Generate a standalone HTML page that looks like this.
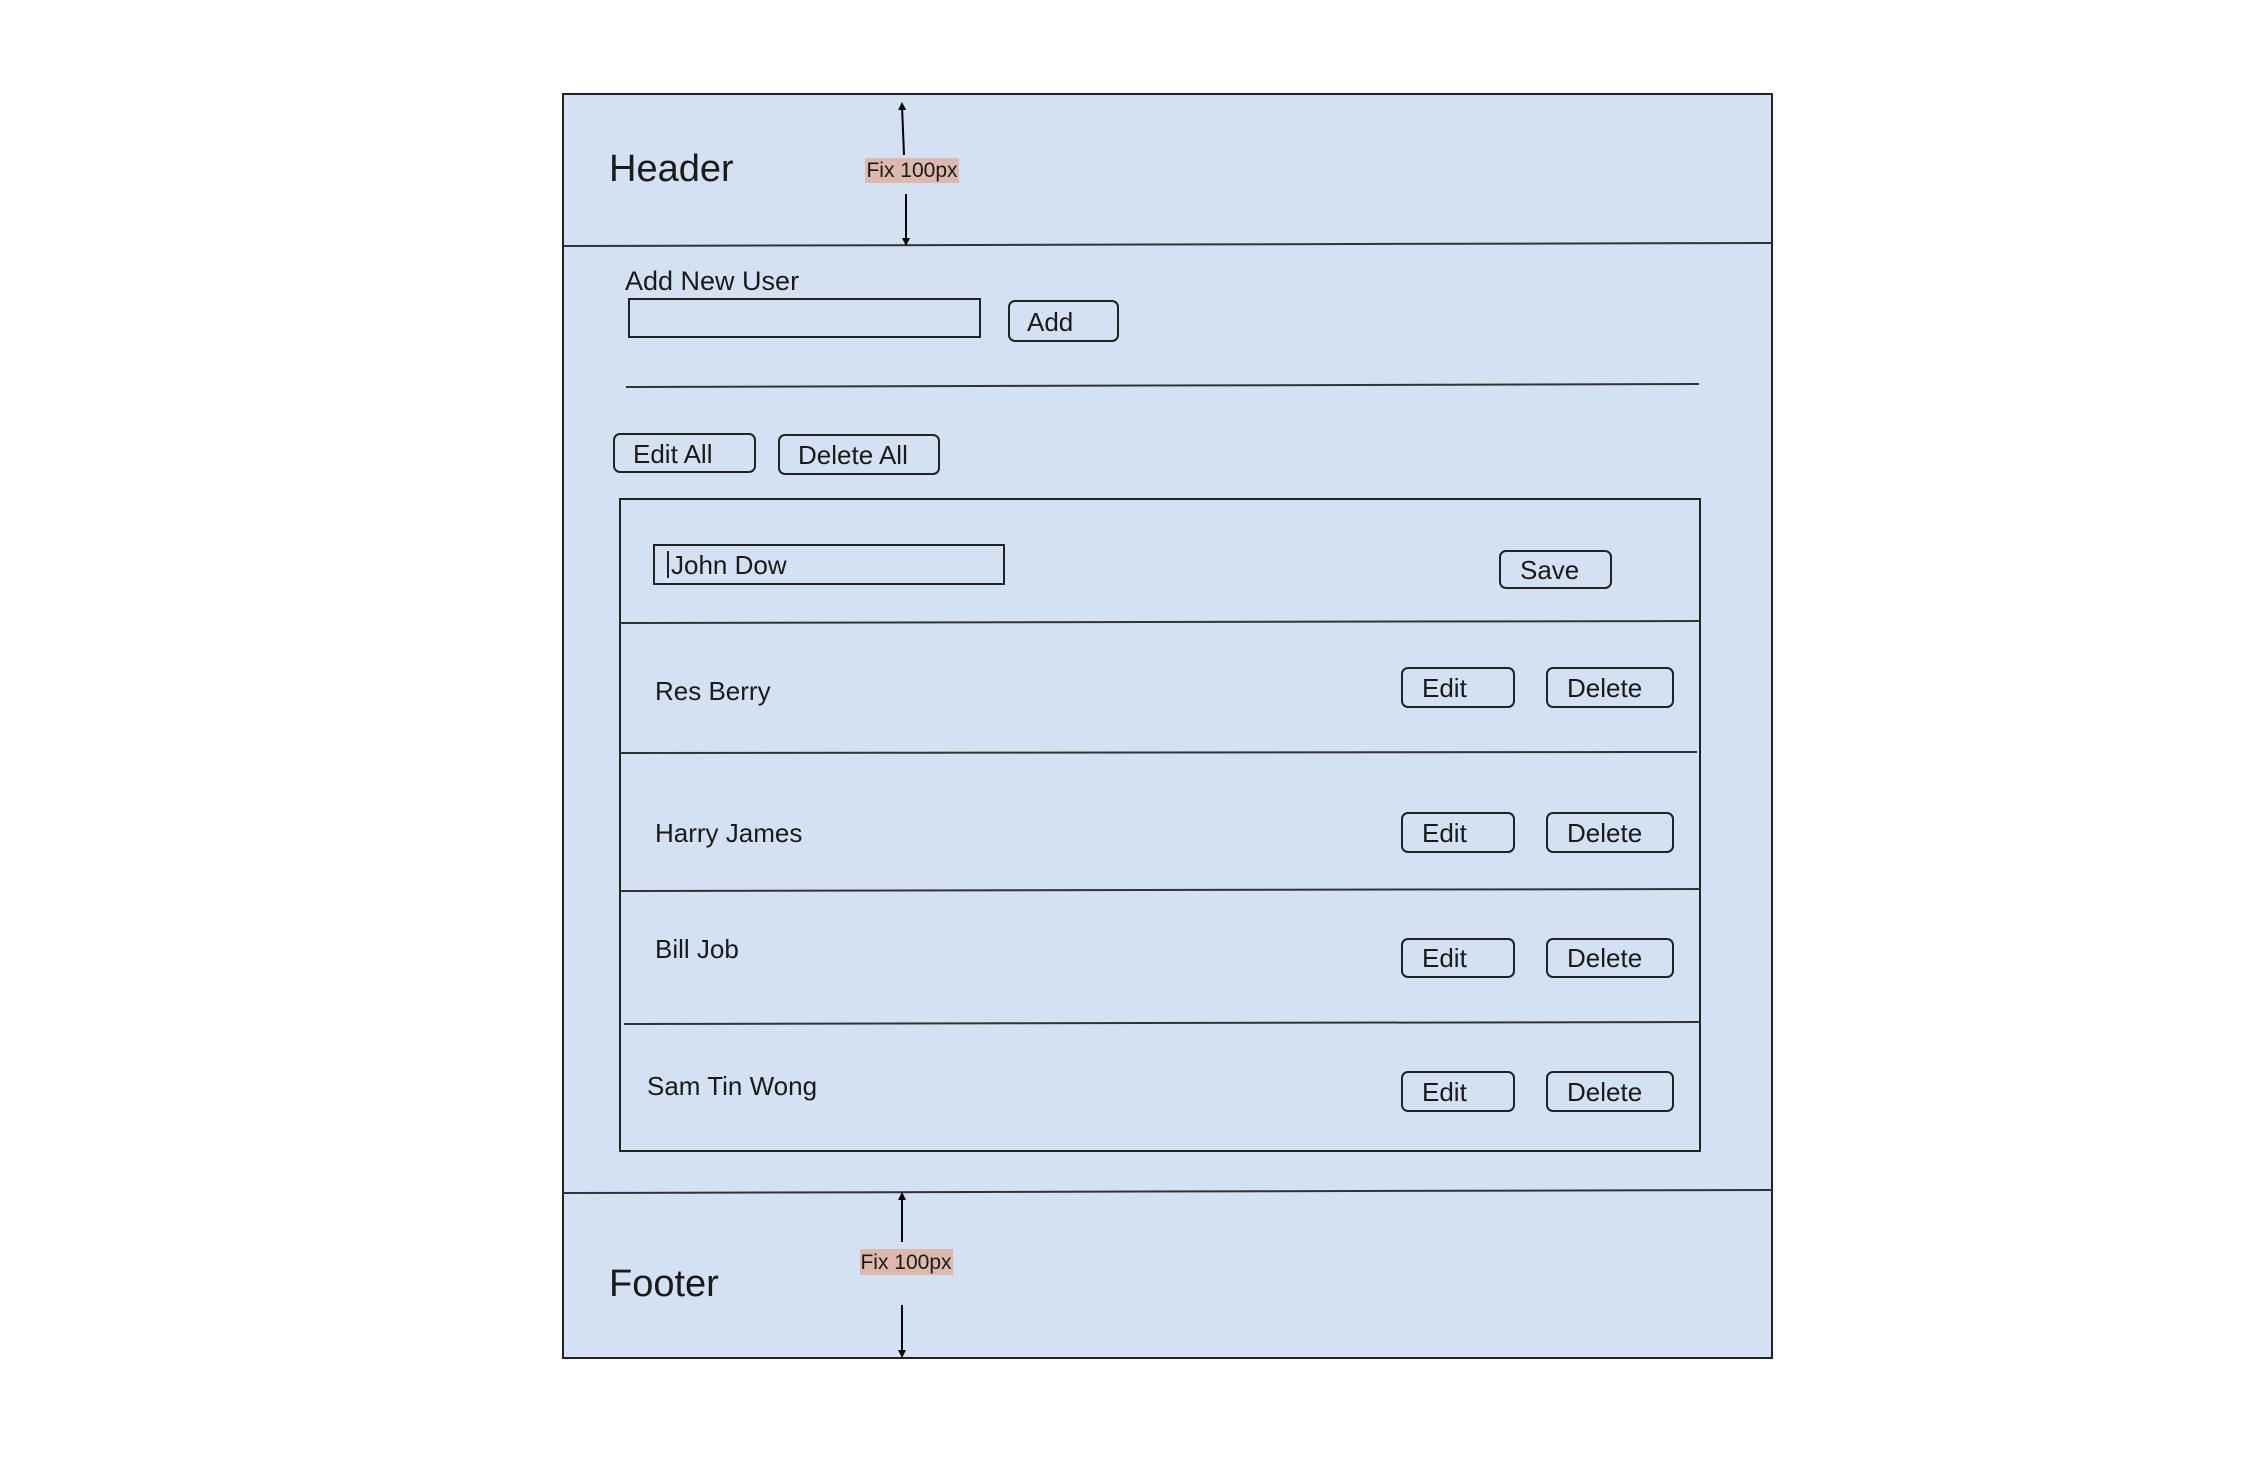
<!DOCTYPE html>
<html><head><meta charset="utf-8"><style>
html,body{margin:0;padding:0;background:#fff;}
svg{display:block;}
text{font-family:"Liberation Sans",Arial,sans-serif;fill:#1a1a1a;}
</style></head><body>
<svg width="2248" height="1470" viewBox="0 0 2248 1470" xmlns="http://www.w3.org/2000/svg">
<defs>
<marker id="ah" markerWidth="8" markerHeight="8" refX="4" refY="4" orient="auto" markerUnits="userSpaceOnUse" viewBox="0 0 8 8"><path d="M0,0 L8,4 L0,8 z" fill="#000"/></marker>
</defs>
<rect x="563" y="94" width="1209" height="1264" fill="#d4e1f2" stroke="#222" stroke-width="2"/>
<line x1="563" y1="246" x2="1772" y2="243" stroke="#333" stroke-width="2"/>
<line x1="563" y1="1193" x2="1772" y2="1190" stroke="#333" stroke-width="2"/>
<text x="609" y="181" font-size="38">Header</text>
<text x="609" y="1296" font-size="38">Footer</text>
<!-- header arrows -->
<line x1="904" y1="155" x2="902" y2="106" stroke="#000" stroke-width="2" marker-end="url(#ah)"/>
<line x1="906" y1="194" x2="906" y2="242" stroke="#000" stroke-width="2" marker-end="url(#ah)"/>
<rect x="865" y="158" width="94" height="25" fill="#dcb8ad"/>
<text x="912" y="177" font-size="21" text-anchor="middle">Fix 100px</text>
<!-- footer arrows -->
<line x1="902" y1="1242" x2="902" y2="1196" stroke="#000" stroke-width="2" marker-end="url(#ah)"/>
<line x1="902" y1="1305" x2="902" y2="1354" stroke="#000" stroke-width="2" marker-end="url(#ah)"/>
<rect x="860" y="1249" width="93" height="26" fill="#dcb8ad"/>
<text x="906" y="1269" font-size="21" text-anchor="middle">Fix 100px</text>
<!-- add new user -->
<text x="625" y="290" font-size="27">Add New User</text>
<rect x="629" y="299" width="351" height="38" fill="none" stroke="#222" stroke-width="2"/>
<rect x="1009" y="301" width="109" height="40" rx="6" fill="none" stroke="#222" stroke-width="2"/>
<text x="1027" y="331" font-size="26">Add</text>
<line x1="626" y1="387" x2="1699" y2="384" stroke="#333" stroke-width="2"/>
<rect x="614" y="434" width="141" height="38" rx="6" fill="none" stroke="#222" stroke-width="2"/>
<text x="633" y="463" font-size="26">Edit All</text>
<rect x="779" y="435" width="160" height="39" rx="6" fill="none" stroke="#222" stroke-width="2"/>
<text x="798" y="464" font-size="26">Delete All</text>
<!-- list -->
<rect x="620" y="499" width="1080" height="652" fill="none" stroke="#222" stroke-width="2"/>
<line x1="620" y1="623" x2="1700" y2="621" stroke="#333" stroke-width="2"/>
<line x1="620" y1="753" x2="1697" y2="752" stroke="#333" stroke-width="2"/>
<line x1="620" y1="891" x2="1700" y2="889" stroke="#333" stroke-width="2"/>
<line x1="624" y1="1024" x2="1700" y2="1022" stroke="#333" stroke-width="2"/>
<rect x="654" y="545" width="350" height="39" fill="none" stroke="#222" stroke-width="2"/>
<line x1="668" y1="551" x2="668" y2="578" stroke="#222" stroke-width="2"/>
<text x="671" y="574" font-size="26">John Dow</text>
<rect x="1500" y="551" width="111" height="37" rx="6" fill="none" stroke="#222" stroke-width="2"/>
<text x="1520" y="579" font-size="26">Save</text>
<text x="655" y="700" font-size="26">Res Berry</text>
<text x="655" y="842" font-size="26">Harry James</text>
<text x="655" y="958" font-size="26">Bill Job</text>
<text x="647" y="1095" font-size="26">Sam Tin Wong</text>
<g>
<rect x="1402" y="668" width="112" height="39" rx="6" fill="none" stroke="#222" stroke-width="2"/><text x="1422" y="697" font-size="26">Edit</text>
<rect x="1547" y="668" width="126" height="39" rx="6" fill="none" stroke="#222" stroke-width="2"/><text x="1567" y="697" font-size="26">Delete</text>
<rect x="1402" y="813" width="112" height="39" rx="6" fill="none" stroke="#222" stroke-width="2"/><text x="1422" y="842" font-size="26">Edit</text>
<rect x="1547" y="813" width="126" height="39" rx="6" fill="none" stroke="#222" stroke-width="2"/><text x="1567" y="842" font-size="26">Delete</text>
<rect x="1402" y="939" width="112" height="38" rx="6" fill="none" stroke="#222" stroke-width="2"/><text x="1422" y="967" font-size="26">Edit</text>
<rect x="1547" y="939" width="126" height="38" rx="6" fill="none" stroke="#222" stroke-width="2"/><text x="1567" y="967" font-size="26">Delete</text>
<rect x="1402" y="1072" width="112" height="39" rx="6" fill="none" stroke="#222" stroke-width="2"/><text x="1422" y="1101" font-size="26">Edit</text>
<rect x="1547" y="1072" width="126" height="39" rx="6" fill="none" stroke="#222" stroke-width="2"/><text x="1567" y="1101" font-size="26">Delete</text>
</g>
</svg>
</body></html>
